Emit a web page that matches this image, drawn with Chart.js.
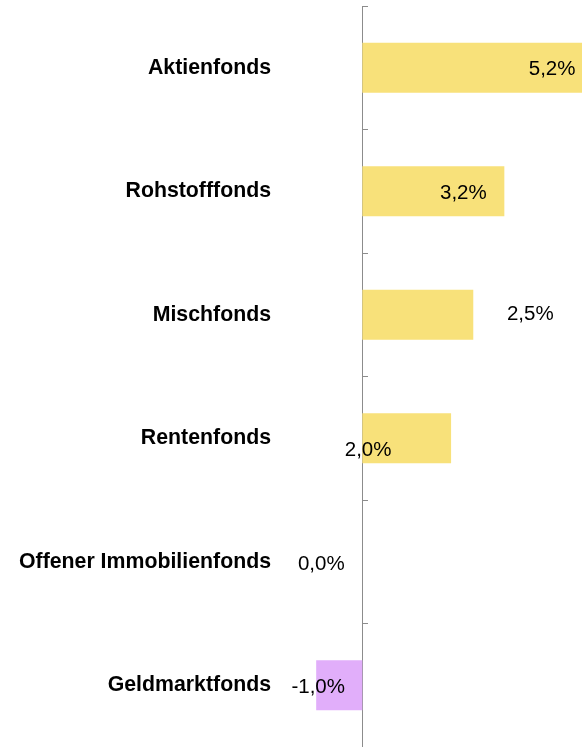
<!DOCTYPE html>
<html>
<head>
<meta charset="utf-8">
<script src="https://cdn.jsdelivr.net/npm/chart.js@4/dist/chart.umd.min.js"></script>
<style>
  html, body { margin: 0; padding: 0; background: #fff; }
  #wrap { width: 582px; height: 747px; }
</style>
</head>
<body>
<div id="wrap"><canvas id="fundsChart"></canvas></div>
<script>
// Fondsarten und Wertentwicklung in %
const categories = ['Aktienfonds', 'Rohstofffonds', 'Mischfonds', 'Rentenfonds', 'Offener Immobilienfonds', 'Geldmarktfonds'];
const performance = [5.2, 3.2, 2.5, 2.0, 0.0, -1.04];
const xMin = -1.63;
const xMax = 4.95;

const yellow = 'rgb(248, 225, 122)';
const purple = 'rgb(225, 174, 250)';

// label offsets (px) from the bar end, as placed in the original
const labelShift = [[-41, 1.5], [-41, 2.5], [57, 0], [-83, 12.5], [-41, 2.5], [2, 2.5]];

const valueLabels = {
    id: 'valueLabels',
    afterDatasetsDraw(chart) {
        const ctx = chart.ctx;
        const meta = chart.getDatasetMeta(0);
        ctx.save();
        ctx.font = '20.5px "Liberation Sans", Arial, sans-serif';
        ctx.fillStyle = '#000';
        ctx.textAlign = 'center';
        ctx.textBaseline = 'middle';
        meta.data.forEach(function(bar, i) {
            const txt = performance[i].toFixed(1).replace('.', ',') + '%';
            ctx.fillText(txt, bar.x + labelShift[i][0], bar.y + labelShift[i][1]);
        });
        ctx.restore();
    }
};

document.addEventListener('DOMContentLoaded', function() {
    const canvas = document.getElementById('fundsChart');
    new Chart(canvas, {
        type: 'bar',
        data: {
            labels: categories,
            datasets: [{
                data: performance,
                backgroundColor: performance.map(v => v < 0 ? purple : yellow),
                borderWidth: 0,
                categoryPercentage: 1,
                barPercentage: 0.405
            }]
        },
        options: {
            indexAxis: 'y',
            responsive: true,
            maintainAspectRatio: false,
            animation: false,
            layout: {
                padding: { top: 6, left: 0, right: 0, bottom: 0 }
            },
            plugins: {
                legend: { display: false },
                tooltip: { enabled: false }
            },
            scales: {
                x: {
                    display: false,
                    min: xMin,
                    max: xMax
                },
                y: {
                    position: 'left',
                    grid: { display: false, drawTicks: false },
                    border: { display: false },
                    ticks: {
                        color: '#000',
                        padding: 19,
                        font: { family: '"Liberation Sans", Arial, sans-serif', size: 21.3, weight: 'bold' }
                    },
                    afterFit(scale) {
                        scale.width = 290;
                        scale.paddingTop = 0;
                        scale.paddingBottom = 0;
                    }
                },
                y2: {
                    type: 'category',
                    labels: categories,
                    position: { x: 0 },
                    offset: true,
                    grid: {
                        offset: true,
                        drawOnChartArea: false,
                        color: '#8c8c8c',
                        tickLength: -6
                    },
                    border: { color: '#8c8c8c', width: 1 },
                    ticks: { display: false }
                }
            }
        },
        plugins: [valueLabels]
    });
});
</script>
</body>
</html>
